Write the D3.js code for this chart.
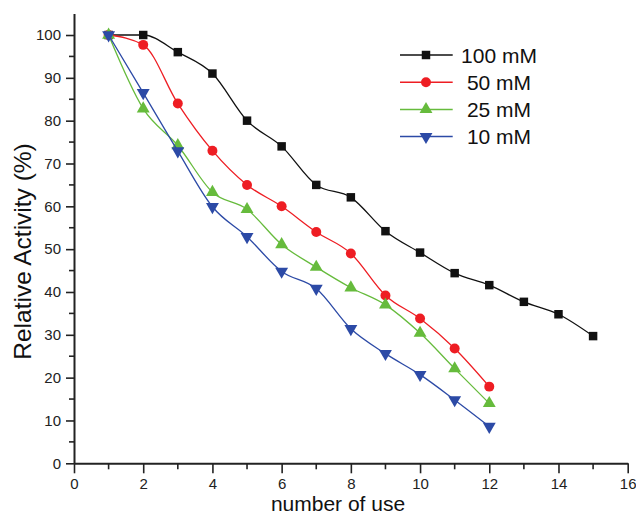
<!DOCTYPE html>
<html>
<head>
<meta charset="utf-8">
<script src="https://cdn.jsdelivr.net/npm/d3@7/dist/d3.min.js"></script>
<style>
  html, body { margin: 0; padding: 0; background: #fff; }
  svg { display: block; font-family: "Liberation Sans", Arial, sans-serif; }
</style>
</head>
<body>
<svg id="chart" width="636" height="513"></svg>
<script>
// Reuse cycles (x) and remaining relative activity (%) for each concentration
const cycles100 = [1, 2, 3, 4, 5, 6, 7, 8, 9, 10, 11, 12, 13, 14, 15];
const activity100 = [100, 100, 96, 91, 80, 74, 65, 62.1, 54.2, 49.2, 44.4, 41.6, 37.7, 34.8, 29.7];

const cycles50 = [1, 2, 3, 4, 5, 6, 7, 8, 9, 10, 11, 12];
const activity50 = [100, 97.7, 84, 73, 65, 60, 54, 49, 39.2, 33.8, 26.8, 17.9];

const cycles25 = [1, 2, 3, 4, 5, 6, 7, 8, 9, 10, 11, 12];
const activity25 = [100, 82.8, 74.2, 63.3, 59.3, 51.1, 45.8, 41, 37, 30.4, 22.1, 14];

const cycles10 = [1, 2, 3, 4, 5, 6, 7, 8, 9, 10, 11, 12];
const activity10 = [100, 86.5, 72.9, 59.9, 52.9, 44.8, 40.8, 31.4, 25.6, 20.7, 14.8, 8.6];

const seriesNames = ["100 mM", "50 mM", "25 mM", "10 mM"];
const seriesColors = ["#111111", "#ee1d23", "#66bb3c", "#2c4aa6"];
const seriesSymbols = [d3.symbolSquare, d3.symbolCircle, d3.symbolTriangle, "triangleDown"];

const xTicks = [0, 2, 4, 6, 8, 10, 12, 14, 16];
const yTicks = [0, 10, 20, 30, 40, 50, 60, 70, 80, 90, 100];

const xTitle = "number of use";
const yTitle = "Relative Activity (%)";

const cycleLists = [cycles100, cycles50, cycles25, cycles10];
const activityLists = [activity100, activity50, activity25, activity10];

const series = seriesNames.map((name, i) => ({
  name,
  color: seriesColors[i],
  symbol: seriesSymbols[i],
  points: cycleLists[i].map((c, j) => ({ x: c, y: activityLists[i][j] }))
}));

const svg = d3.select("#chart");
const axisColor = "#222";

const x = d3.scaleLinear().domain([0, 16]).range([74, 627.7]);
const y = d3.scaleLinear().domain([0, 105]).range([463.3, 13.6]);

// Minor ticks (odd cycles, every 5 %)
const xMinor = d3.range(1, 16, 2);
const yMinor = d3.range(5, 105, 10);

const gx = svg.append("g").attr("transform", `translate(0,${y(0)})`);
gx.call(d3.axisBottom(x).tickValues(xTicks).tickFormat(d3.format("d")).tickSize(10).tickPadding(5).tickSizeOuter(0));
gx.selectAll("line.minor").data(xMinor).enter().append("line")
  .attr("class", "minor")
  .attr("x1", d => x(d)).attr("x2", d => x(d))
  .attr("y1", 0).attr("y2", 6);

const gy = svg.append("g").attr("transform", `translate(${x(0)},0)`);
gy.call(d3.axisLeft(y).tickValues(yTicks).tickFormat(d3.format("d")).tickSize(8).tickPadding(5).tickSizeOuter(0));
gy.selectAll("line.minor").data(yMinor).enter().append("line")
  .attr("class", "minor")
  .attr("x1", 0).attr("x2", -5)
  .attr("y1", d => y(d)).attr("y2", d => y(d));

[gx, gy].forEach(g => {
  g.select(".domain").attr("stroke", axisColor).attr("stroke-width", 2);
  g.selectAll("line").attr("stroke", axisColor).attr("stroke-width", 1.6);
  g.selectAll("text").attr("fill", "#222").style("font-size", "15px")
    .style("font-family", "'Liberation Sans', Arial, sans-serif");
});

// Axis titles
svg.append("text")
  .attr("x", 338).attr("y", 510.5)
  .attr("text-anchor", "middle")
  .attr("fill", "#111")
  .style("font-size", "21px")
  .text(xTitle);

svg.append("text")
  .attr("transform", `translate(31,251.5) rotate(-90)`)
  .attr("text-anchor", "middle")
  .attr("fill", "#111")
  .style("font-size", "24.5px")
  .text(yTitle);

// Marker shapes
const markerSizes = [72, 78, 72, 72];

function drawMarker(g, s, i, cx, cy) {
  const down = s.symbol === "triangleDown";
  g.append("path")
    .attr("d", d3.symbol(down ? d3.symbolTriangle : s.symbol, markerSizes[i])())
    .attr("transform", `translate(${cx},${cy})` + (down ? " rotate(180)" : ""))
    .attr("fill", s.color);
}

const line = d3.line()
  .x(d => x(d.x))
  .y(d => y(d.y))
  .curve(d3.curveMonotoneX);

// Curves and markers
series.forEach((s, i) => {
  const g = svg.append("g");
  g.append("path")
    .datum(s.points)
    .attr("d", line)
    .attr("fill", "none")
    .attr("stroke", s.color)
    .attr("stroke-width", 1.3);
  s.points.forEach(p => drawMarker(g, s, i, x(p.x), y(p.y)));
});

// Legend
const legend = svg.append("g");
series.forEach((s, i) => {
  const ly = 55 + i * 27.2;
  legend.append("line")
    .attr("x1", 400).attr("x2", 452.7)
    .attr("y1", ly).attr("y2", ly)
    .attr("stroke", s.color).attr("stroke-width", 1.5);
  drawMarker(legend, s, i, 426, ly);
  legend.append("text")
    .attr("x", 499).attr("y", ly + 7.5)
    .attr("text-anchor", "middle")
    .attr("fill", "#111")
    .style("font-size", "21px")
    .text(s.name);
});
</script>
</body>
</html>
